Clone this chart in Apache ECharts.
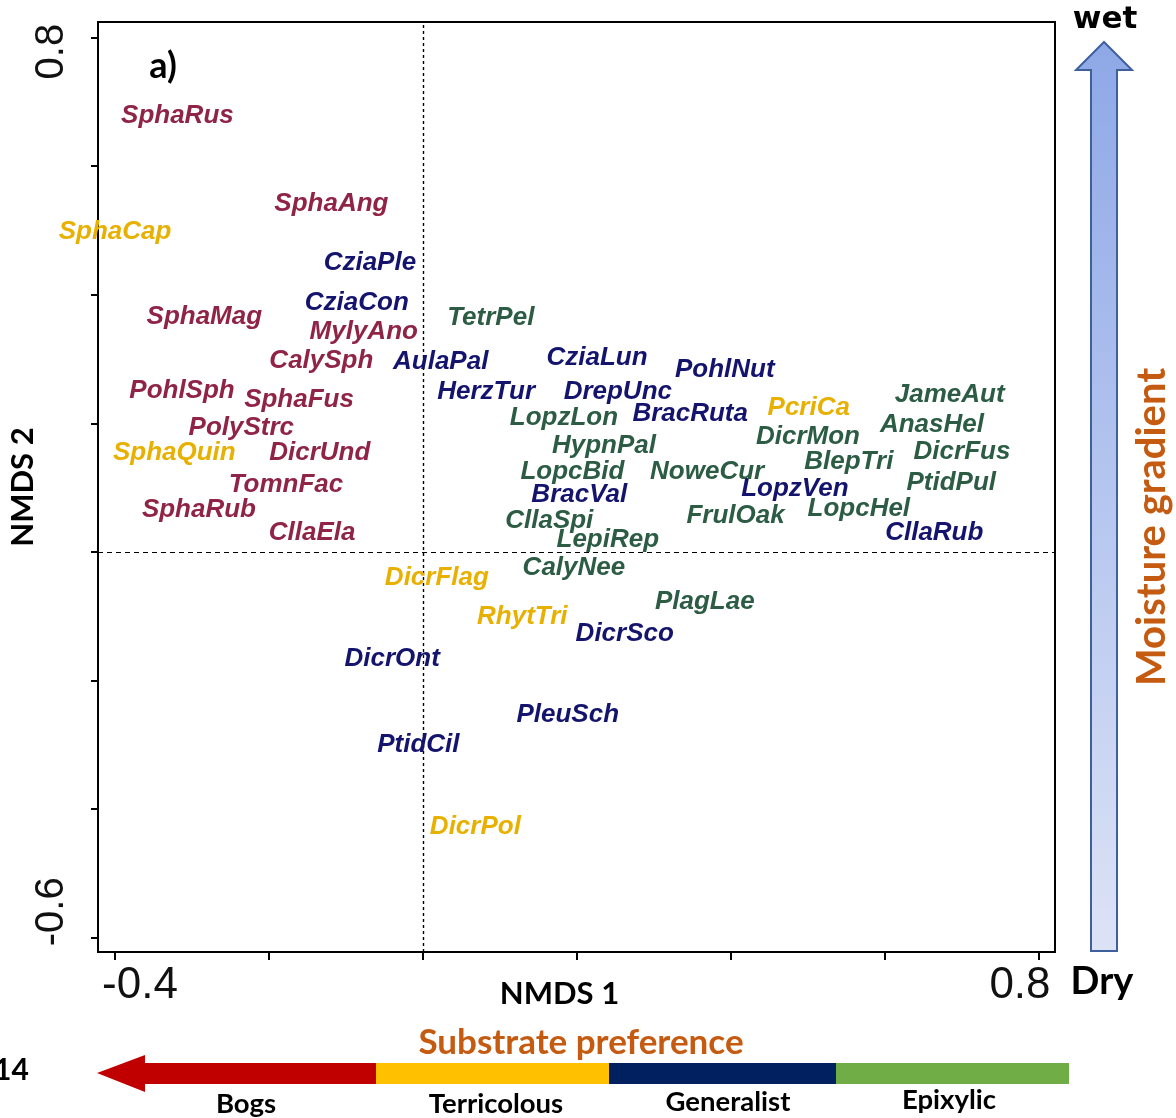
<!DOCTYPE html>
<html>
<head>
<meta charset="utf-8">
<script src="https://cdn.jsdelivr.net/npm/echarts@6/dist/echarts.min.js"></script>
<style>
  html, body { margin: 0; padding: 0; background: #fff; }
  #chart { width: 1176px; height: 1118px; }
</style>
</head>
<body>
<div id="chart"></div>
<script>
// NMDS species scores, grouped by substrate preference
const bogNames = ['SphaRus', 'SphaAng', 'SphaMag', 'MylyAno', 'CalySph', 'PohlSph', 'SphaFus', 'PolyStrc', 'DicrUnd', 'TomnFac', 'SphaRub', 'CllaEla'];
const bogNmds1 = [-0.319, -0.119, -0.284, -0.077, -0.132, -0.313, -0.161, -0.236, -0.134, -0.178, -0.291, -0.144];
const bogNmds2 = [0.678, 0.541, 0.365, 0.342, 0.297, 0.250, 0.236, 0.193, 0.154, 0.104, 0.065, 0.030];

const terrNames = ['SphaCap', 'SphaQuin', 'PcriCa', 'DicrFlag', 'RhytTri', 'DicrPol'];
const terrNmds1 = [-0.400, -0.323, 0.501, 0.018, 0.129, 0.068];
const terrNmds2 = [0.498, 0.154, 0.224, -0.040, -0.101, -0.428];

const genNames = ['CziaPle', 'CziaCon', 'AulaPal', 'CziaLun', 'PohlNut', 'HerzTur', 'DrepUnc', 'BracRuta', 'LopzVen', 'BracVal', 'CllaRub', 'DicrSco', 'DicrOnt', 'PleuSch', 'PtidCil'];
const genNmds1 = [-0.069, -0.086, 0.023, 0.226, 0.392, 0.082, 0.253, 0.347, 0.483, 0.203, 0.664, 0.262, -0.040, 0.188, -0.006];
const genNmds2 = [0.449, 0.387, 0.295, 0.302, 0.283, 0.249, 0.249, 0.215, 0.098, 0.089, 0.030, -0.128, -0.166, -0.253, -0.300];

const epiNames = ['TetrPel', 'JameAut', 'LopzLon', 'AnasHel', 'DicrMon', 'HypnPal', 'DicrFus', 'BlepTri', 'LopcBid', 'NoweCur', 'PtidPul', 'FrulOak', 'LopcHel', 'CllaSpi', 'LepiRep', 'CalyNee', 'PlagLae'];
const epiNmds1 = [0.088, 0.684, 0.183, 0.661, 0.500, 0.235, 0.700, 0.553, 0.194, 0.369, 0.686, 0.406, 0.566, 0.164, 0.240, 0.196, 0.366];
const epiNmds2 = [0.364, 0.244, 0.208, 0.198, 0.179, 0.165, 0.156, 0.140, 0.124, 0.124, 0.107, 0.056, 0.067, 0.048, 0.019, -0.025, -0.078];

// axis ticks and labels
const xTicks = [-0.4, -0.2, 0, 0.2, 0.4, 0.6, 0.8];
const xLabels = [-0.4, 0.8];
const yTicks = [-0.6, -0.4, -0.2, 0, 0.2, 0.4, 0.6, 0.8];
const yLabels = [-0.6, 0.8];

// substrate bands along the bottom arrow
const substrates = ['Bogs', 'Terricolous', 'Generalist', 'Epixylic'];

const groupColors = ['#8f2446', '#e8b000', '#14146e', '#2c5c44'];

function toPoints(names, xs, ys) {
  return names.map((n, i) => ({ name: n, value: [xs[i], ys[i]] }));
}

function speciesSeries(name, names, xs, ys, color, extra) {
  return Object.assign({
    name: name,
    type: 'scatter',
    symbolSize: 1,
    itemStyle: { color: 'rgba(0,0,0,0)', opacity: 1 },
    data: toPoints(names, xs, ys),
    label: {
      show: true,
      position: 'inside',
      formatter: p => p.name,
      color: color,
      opacity: 1,
      fontFamily: '"Liberation Sans", Arial, sans-serif',
      fontStyle: 'italic',
      fontWeight: 'bold',
      fontSize: 26
    },
    labelLayout: { hideOverlap: false },
    emphasis: { disabled: true },
    silent: true,
    z: 5
  }, extra || {});
}

function txt(x, y, text, size, color, opts) {
  return Object.assign({
    type: 'text', x: x, y: y,
    style: Object.assign({
      text: text,
      fontFamily: 'Lato, sans-serif',
      fontWeight: 'bold',
      fontSize: size,
      fill: color,
      align: 'center',
      verticalAlign: 'middle'
    }, (opts && opts.style) || {})
  }, (opts && opts.el) || {});
}

const chart = echarts.init(document.getElementById('chart'));

const gridLeft = 98, gridTop = 22, gridRight = 1055, gridBottom = 952;

chart.setOption({
  animation: false,
  backgroundColor: '#ffffff',
  grid: {
    left: gridLeft, top: gridTop, right: 1176 - gridRight, bottom: 1118 - gridBottom,
    show: true, borderColor: '#000', borderWidth: 2,
    outerBoundsMode: 'none'
  },
  xAxis: {
    type: 'value',
    min: -0.4221, max: 0.8208,
    splitLine: { show: false },
    axisLine: { show: true, onZero: false, lineStyle: { color: '#000', width: 2 } },
    axisTick: { show: true, customValues: xTicks, length: 8, lineStyle: { color: '#000', width: 2 } },
    axisLabel: {
      customValues: xLabels,
      margin: 12,
      formatter: v => (v < 0 ? '{l|' + v.toFixed(1) + '}' : '{r|' + v.toFixed(1) + '}'),
      rich: {
        l: { fontFamily: '"Liberation Sans", Arial, sans-serif', fontSize: 44, color: '#111', padding: [0, 0, 0, 50] },
        r: { fontFamily: '"Liberation Sans", Arial, sans-serif', fontSize: 44, color: '#111', padding: [0, 38, 0, 0] }
      }
    },
    name: 'NMDS 1',
    nameLocation: 'middle',
    nameGap: 26,
    nameMoveOverlap: false,
    nameTextStyle: { fontFamily: 'Lato, sans-serif', fontWeight: 'bold', fontSize: 31, color: '#000', padding: [0, 34, 0, 0] }
  },
  yAxis: {
    type: 'value',
    min: -0.6221, max: 0.8243,
    splitLine: { show: false },
    axisLine: { show: true, onZero: false, lineStyle: { color: '#000', width: 2 } },
    axisTick: { show: true, customValues: yTicks, length: 7, lineStyle: { color: '#000', width: 2 } },
    axisLabel: {
      customValues: yLabels,
      rotate: 90,
      margin: 26,
      formatter: v => (v < 0 ? '{l|' + v.toFixed(1) + '}' : '{r|' + v.toFixed(1) + '}'),
      rich: {
        l: { fontFamily: '"Liberation Sans", Arial, sans-serif', fontSize: 40, color: '#111', padding: [0, 0, 0, 52] },
        r: { fontFamily: '"Liberation Sans", Arial, sans-serif', fontSize: 40, color: '#111', padding: [0, 28, 0, 0] }
      }
    },
    name: 'NMDS 2',
    nameLocation: 'middle',
    nameGap: 60,
    nameMoveOverlap: false,
    nameTextStyle: { fontFamily: 'Lato, sans-serif', fontWeight: 'bold', fontSize: 31, color: '#000' }
  },
  series: [
    speciesSeries('Bogs', bogNames, bogNmds1, bogNmds2, groupColors[0], {
      markLine: {
        silent: true,
        symbol: 'none',
        label: { show: false },
        data: [
          { xAxis: 0, lineStyle: { color: '#000', width: 1.4, type: [3, 3] } },
          { yAxis: 0, lineStyle: { color: '#000', width: 1.2, type: [5, 4] } }
        ]
      }
    }),
    speciesSeries('Terricolous', terrNames, terrNmds1, terrNmds2, groupColors[1]),
    speciesSeries('Generalist', genNames, genNmds1, genNmds2, groupColors[2]),
    speciesSeries('Epixylic', epiNames, epiNmds1, epiNmds2, groupColors[3])
  ],
  graphic: [
    // panel tag
    txt(163, 66, 'a)', 36, '#000'),
    // moisture gradient arrow
    {
      type: 'polygon',
      shape: { points: [[1104, 42], [1132, 70], [1117, 70], [1117, 951], [1091, 951], [1091, 70], [1076, 70]] },
      style: {
        fill: new echarts.graphic.LinearGradient(0, 0, 0, 1, [
          { offset: 0, color: '#8ea8e7' },
          { offset: 1, color: '#dde3f6' }
        ]),
        stroke: '#3f5f9f',
        lineWidth: 2
      }
    },
    txt(1105, 20, 'wet', 31, '#000', { style: { fontFamily: '"DejaVu Sans", sans-serif' } }),
    txt(1102, 982, 'Dry', 38, '#000'),
    txt(1152, 527, 'Moisture gradient', 40, '#c55a11', { el: { rotation: Math.PI / 2 } }),
    // substrate preference arrow
    txt(581, 1043, 'Substrate preference', 35, '#c55a11'),
    { type: 'polygon', shape: { points: [[97, 1073], [145, 1055], [145, 1063], [376, 1063], [376, 1084], [145, 1084], [145, 1092]] }, style: { fill: '#c00000' } },
    { type: 'rect', shape: { x: 376, y: 1063, width: 233, height: 21 }, style: { fill: '#ffc000' } },
    { type: 'rect', shape: { x: 609, y: 1063, width: 227, height: 21 }, style: { fill: '#002060' } },
    { type: 'rect', shape: { x: 836, y: 1063, width: 233, height: 21 }, style: { fill: '#70ad47' } },
    txt(246, 1104, substrates[0], 27.5, '#000'),
    txt(496, 1104, substrates[1], 27.5, '#000'),
    txt(728, 1102, substrates[2], 27.5, '#000'),
    txt(949, 1100, substrates[3], 27.5, '#000'),
    txt(-6, 1070, '14', 30, '#000', { style: { align: 'left' } })
  ]
});
</script>
</body>
</html>
